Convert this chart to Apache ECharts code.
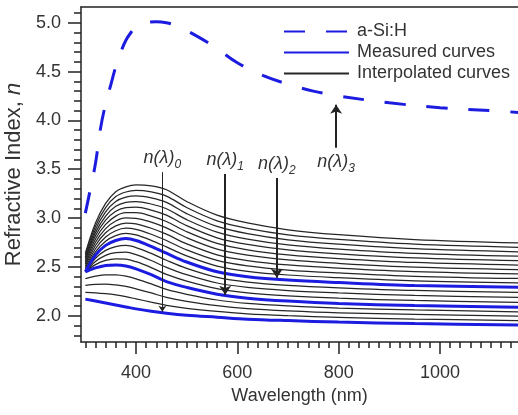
<!DOCTYPE html>
<html>
<head>
<meta charset="utf-8">
<title>Refractive index vs wavelength</title>
<script src="https://cdn.jsdelivr.net/npm/echarts@6.0.0/dist/echarts.min.js"></script>
<style>
  html, body { margin: 0; padding: 0; background: #fff; }
  #chart { width: 518px; height: 415px; }
</style>
</head>
<body>
<div id="chart"></div>
<script>
// wavelengths (nm) where the family of curves was read
const wavelengths = [300, 320, 340, 360, 380, 400, 430, 460, 500, 560, 620, 700, 800, 950, 1160];

// measured curves (blue), n(λ)0 .. n(λ)2
const measured0 = [2.17, 2.15, 2.13, 2.11, 2.09, 2.07, 2.045, 2.025, 2.005, 1.985, 1.965, 1.95, 1.935, 1.92, 1.905];
const measured1 = [2.45, 2.49, 2.515, 2.52, 2.51, 2.48, 2.42, 2.35, 2.29, 2.22, 2.18, 2.15, 2.125, 2.105, 2.085];
const measured2 = [2.45, 2.62, 2.72, 2.77, 2.79, 2.77, 2.71, 2.64, 2.55, 2.45, 2.40, 2.365, 2.34, 2.31, 2.29];

// interpolated curves (black), bottom to top
const interp01a = [2.24, 2.235, 2.226, 2.213, 2.195, 2.173, 2.139, 2.106, 2.076, 2.044, 2.019, 2.0, 1.983, 1.966, 1.95];
const interp01b = [2.31, 2.32, 2.323, 2.315, 2.3, 2.275, 2.233, 2.188, 2.148, 2.103, 2.073, 2.05, 2.03, 2.013, 1.995];
const interp01c = [2.38, 2.405, 2.419, 2.418, 2.405, 2.378, 2.326, 2.269, 2.219, 2.161, 2.126, 2.1, 2.078, 2.059, 2.04];
const interp12a = [2.45, 2.523, 2.566, 2.583, 2.58, 2.553, 2.493, 2.423, 2.355, 2.278, 2.235, 2.204, 2.179, 2.156, 2.136];
const interp12b = [2.45, 2.555, 2.618, 2.645, 2.65, 2.625, 2.565, 2.495, 2.42, 2.335, 2.29, 2.258, 2.233, 2.208, 2.188];
const interp12c = [2.45, 2.588, 2.669, 2.708, 2.72, 2.698, 2.638, 2.568, 2.485, 2.393, 2.345, 2.311, 2.286, 2.259, 2.239];
const interpUp1 = [2.469, 2.653, 2.763, 2.82, 2.843, 2.827, 2.772, 2.705, 2.612, 2.508, 2.455, 2.417, 2.389, 2.357, 2.336];
const interpUp2 = [2.488, 2.686, 2.806, 2.87, 2.896, 2.884, 2.834, 2.77, 2.674, 2.566, 2.51, 2.468, 2.438, 2.404, 2.381];
const interpUp3 = [2.507, 2.719, 2.849, 2.92, 2.949, 2.941, 2.896, 2.835, 2.736, 2.624, 2.565, 2.52, 2.487, 2.451, 2.427];
const interpUp4 = [2.526, 2.752, 2.892, 2.97, 3.002, 2.998, 2.958, 2.9, 2.798, 2.682, 2.62, 2.571, 2.536, 2.498, 2.472];
const interpUp5 = [2.545, 2.785, 2.935, 3.02, 3.055, 3.055, 3.02, 2.965, 2.86, 2.74, 2.675, 2.623, 2.585, 2.545, 2.518];
const interpUp6 = [2.564, 2.818, 2.978, 3.07, 3.108, 3.112, 3.082, 3.03, 2.922, 2.798, 2.73, 2.674, 2.634, 2.592, 2.563];
const interpUp7 = [2.583, 2.851, 3.021, 3.12, 3.161, 3.169, 3.144, 3.095, 2.984, 2.856, 2.785, 2.726, 2.683, 2.639, 2.609];
const interpUp8 = [2.602, 2.884, 3.064, 3.17, 3.214, 3.226, 3.206, 3.16, 3.046, 2.914, 2.84, 2.777, 2.732, 2.686, 2.654];
const interpUp9 = [2.621, 2.917, 3.107, 3.22, 3.267, 3.283, 3.268, 3.225, 3.108, 2.972, 2.895, 2.829, 2.781, 2.733, 2.7];
const interpUp10 = [2.64, 2.95, 3.15, 3.27, 3.32, 3.34, 3.33, 3.29, 3.17, 3.03, 2.95, 2.88, 2.83, 2.78, 2.745];

// a-Si:H (dashed blue)
const asiWavelengths = [300, 310, 320, 330, 340, 350, 360, 370, 380, 390, 400, 420, 440, 460, 480, 500, 550, 600, 650, 700, 750, 800, 900, 1000, 1100, 1160];
const asiValues = [3.05, 3.3, 3.56, 3.92, 4.17, 4.36, 4.55, 4.70, 4.82, 4.90, 4.96, 5.0, 5.01, 5.0, 4.97, 4.92, 4.77, 4.59, 4.46, 4.37, 4.30, 4.25, 4.18, 4.13, 4.10, 4.08];

// axis ticks
const xMajorTicks = [400, 600, 800, 1000];
const xMinorTicks = [300, 320, 340, 360, 380, 420, 440, 460, 480, 500, 520, 540, 560, 580, 620, 640, 660, 680, 700, 720, 740, 760, 780, 820, 840, 860, 880, 900, 920, 940, 960, 980, 1020, 1040, 1060, 1080, 1100, 1120, 1140];
const yMajorTicks = [2.0, 2.5, 3.0, 3.5, 4.0, 4.5, 5.0];
const yMinorTicks = [1.8, 1.9, 2.1, 2.2, 2.3, 2.4, 2.6, 2.7, 2.8, 2.9, 3.1, 3.2, 3.3, 3.4, 3.6, 3.7, 3.8, 3.9, 4.1, 4.2, 4.3, 4.4, 4.6, 4.7, 4.8, 4.9, 5.1];

// arrows: [label subscript, wavelength, start n, end n]
const arrows = [
  ['0', 452, 3.47, 2.04],
  ['1', 576, 3.45, 2.215],
  ['2', 678, 3.41, 2.39],
  ['3', 795, 3.72, 4.16]
];

const X_MIN = 291.4, X_MAX = 1154, Y_MIN = 1.731, Y_MAX = 5.161;
const FONT = 'Liberation Sans, Arial, sans-serif';
const TEXT = '#333';
const AXIS = '#222';
const BLUE = '#1c1ce0';

function pairs(xs, ys) {
  return xs.map((x, i) => [x, ys[i]]);
}

const interpolated = [interp01a, interp01b, interp01c, interp12a, interp12b, interp12c,
  interpUp1, interpUp2, interpUp3, interpUp4, interpUp5, interpUp6, interpUp7, interpUp8, interpUp9, interpUp10];
const measured = [measured0, measured1, measured2];

const series = [];
interpolated.forEach(ys => {
  series.push({
    name: 'Interpolated curves', type: 'line', data: pairs(wavelengths, ys),
    symbol: 'none', smooth: 0.35, silent: true,
    lineStyle: { color: '#262626', width: 1.25 }, itemStyle: { color: '#262626' }
  });
});
measured.forEach(ys => {
  series.push({
    name: 'Measured curves', type: 'line', data: pairs(wavelengths, ys),
    symbol: 'none', smooth: 0.35, silent: true, z: 3,
    lineStyle: { color: BLUE, width: 3 }, itemStyle: { color: BLUE }
  });
});

const annoRich = {
  a: { fontFamily: FONT, fontSize: 18, fontStyle: 'italic', color: TEXT, lineHeight: 26 },
  b: { fontFamily: FONT, fontSize: 12, fontStyle: 'italic', color: TEXT, lineHeight: 26, verticalAlign: 'bottom' }
};

series.push({
  name: 'a-Si:H', type: 'line', data: pairs(asiWavelengths, asiValues),
  symbol: 'none', smooth: 0.35, silent: true, z: 4,
  lineStyle: { color: BLUE, width: 3, type: [21, 21] }, itemStyle: { color: BLUE },
  markLine: {
    silent: true, animation: false,
    data: arrows.map((a, i) => [
      {
        coord: [a[1], a[2]], symbol: 'none',
        lineStyle: { color: '#222', width: i === 0 ? 1 : 2, type: 'solid' },
        label: { show: true, position: 'start', distance: 1, formatter: '{a|n(λ)}{b|' + a[0] + '}', rich: annoRich }
      },
      { coord: [a[1], a[3]], symbol: 'arrow', symbolSize: i === 0 ? 6 : 9 }
    ])
  }
});

const chart = echarts.init(document.getElementById('chart'), null, { renderer: 'canvas' });
chart.setOption({
  animation: false,
  backgroundColor: '#fff',
  grid: { left: 81, right: 0, top: 7, bottom: 73, outerBoundsMode: 'none', containLabel: false },
  legend: {
    orient: 'vertical', left: 278, top: 16, itemGap: 0,
    itemWidth: 65, itemHeight: 14,
    itemStyle: { opacity: 0 },
    data: ['a-Si:H', 'Measured curves', 'Interpolated curves'],
    textStyle: { fontFamily: FONT, fontSize: 18, color: TEXT, lineHeight: 21, padding: [0, 0, 0, 3] }
  },
  xAxis: [
    {
      type: 'value', min: X_MIN, max: X_MAX, position: 'bottom',
      name: 'Wavelength (nm)', nameLocation: 'middle', nameGap: 44,
      nameTextStyle: { fontFamily: FONT, fontSize: 18, color: TEXT },
      axisLine: { show: true, lineStyle: { color: AXIS, width: 1.5 } },
      axisTick: { show: true, inside: false, length: 12, customValues: xMajorTicks, lineStyle: { color: AXIS, width: 1.5 } },
      axisLabel: { show: true, customValues: xMajorTicks, margin: 22, fontFamily: FONT, fontSize: 18, color: TEXT,
        formatter: v => String(v) },
      splitLine: { show: false }
    },
    {
      type: 'value', min: X_MIN, max: X_MAX, position: 'bottom',
      axisLine: { show: false },
      axisTick: { show: true, inside: false, length: 6, customValues: xMinorTicks, lineStyle: { color: AXIS, width: 1.5 } },
      axisLabel: { show: false }, splitLine: { show: false }
    },
    {
      type: 'value', min: X_MIN, max: X_MAX, position: 'top',
      axisLine: { show: true, lineStyle: { color: AXIS, width: 1.5 } },
      axisTick: { show: false }, axisLabel: { show: false }, splitLine: { show: false }
    }
  ],
  yAxis: [
    {
      type: 'value', min: Y_MIN, max: Y_MAX, position: 'left',
      name: '{a|Refractive Index, }{b|n}', nameLocation: 'middle', nameGap: 54, nameRotate: 90,
      nameTextStyle: {
        rich: {
          a: { fontFamily: FONT, fontSize: 22, color: TEXT },
          b: { fontFamily: FONT, fontSize: 22, color: TEXT, fontStyle: 'italic' }
        }
      },
      axisLine: { show: true, lineStyle: { color: AXIS, width: 1.5 } },
      axisTick: { show: true, inside: false, length: 13, customValues: yMajorTicks, lineStyle: { color: AXIS, width: 1.5 } },
      axisLabel: { show: true, customValues: yMajorTicks, margin: 20, fontFamily: FONT, fontSize: 18, color: TEXT,
        formatter: v => v.toFixed(1) },
      splitLine: { show: false }
    },
    {
      type: 'value', min: Y_MIN, max: Y_MAX, position: 'left',
      axisLine: { show: false },
      axisTick: { show: true, inside: false, length: 7, customValues: yMinorTicks, lineStyle: { color: AXIS, width: 1.5 } },
      axisLabel: { show: false }, splitLine: { show: false }
    }
  ],
  series: series
});
</script>
</body>
</html>
